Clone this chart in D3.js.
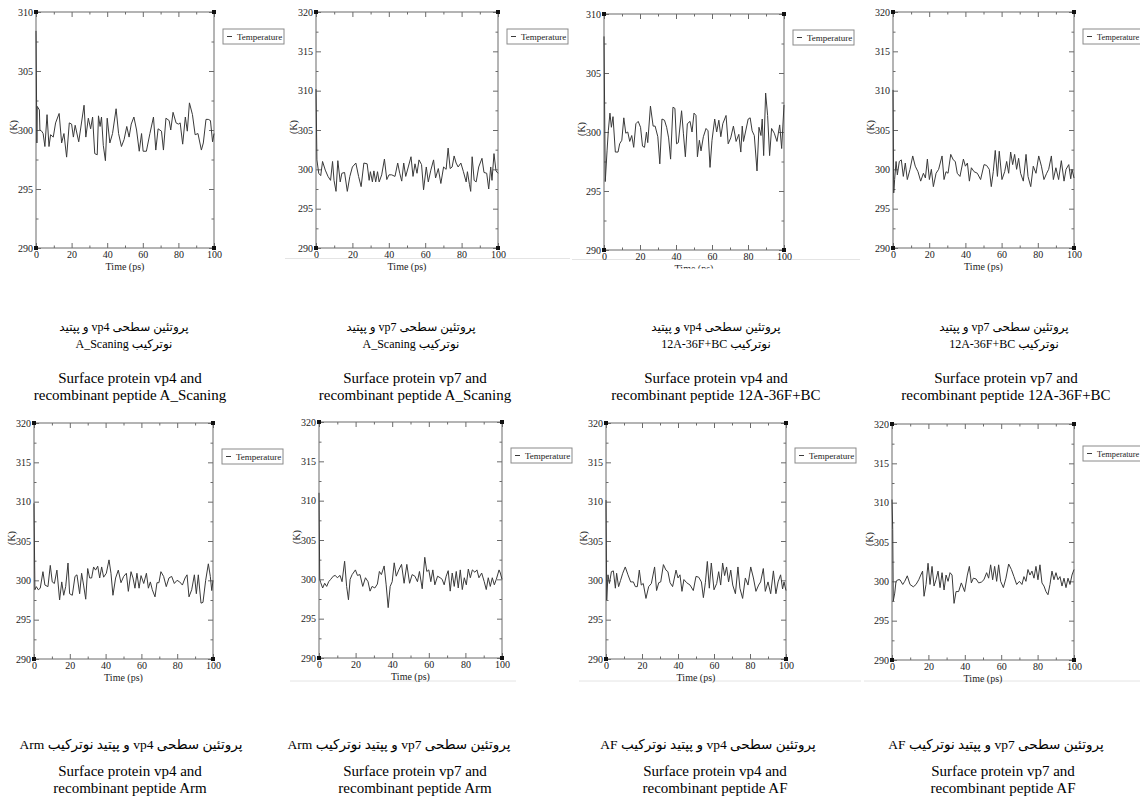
<!DOCTYPE html>
<html><head><meta charset="utf-8">
<script src="https://cdn.jsdelivr.net/npm/d3@7"></script>
<style>body{margin:0;background:#fff}svg{display:block}</style>
</head><body>
<svg id="c" width="1140" height="802"></svg>
<script>
// ---------- data ----------
const xTicks = [0, 20, 40, 60, 80, 100];
const xMinorTicks = [10, 30, 50, 70, 90];
const yTicksLow = [290, 295, 300, 305, 310];
const yTicksHigh = [290, 295, 300, 305, 310, 315, 320];
const legendLabel = "Temperature";
const xLabel = "Time (ps)";
const yLabel = "(K)";

// [time (ps), temperature (K)]
const vp4AScaning = [[0,308.4],[0.5,298.9],[0.7,302.0],[1.9,301.7],[2.2,300.0],[3.2,299.9],[4,299.7],[5,298.6],[6.2,301.3],[7.3,298.6],[8.2,299.6],[9.7,299.4],[11,300.6],[13,301.4],[14.4,298.9],[15.7,299.7],[17.2,297.7],[18.7,300.6],[20,300.5],[21,299.4],[22,300.4],[24,299.0],[27,302.1],[28,299.4],[29.4,301.0],[30.7,300.1],[31.8,301.1],[33,298.0],[34.4,297.9],[35.1,301.2],[36,300.3],[36.8,301.1],[37.8,298.7],[39,297.4],[40,301.0],[41.5,298.9],[43,299.7],[45,301.8],[46.4,299.7],[48,298.6],[49.5,299.2],[51,300.3],[52.3,299.4],[53.5,300.5],[55,301.1],[56.5,300.0],[58,298.2],[59.3,299.7],[60.2,298.2],[62,298.2],[64,299.7],[66,301.1],[67.3,298.3],[68.6,300.1],[70.5,299.9],[71.6,298.3],[73,301.0],[74.8,300.8],[75.7,300.0],[77,301.5],[78.7,300.6],[80,300.5],[81,300.6],[82.4,298.8],[83.9,301.1],[85,299.9],[86.2,302.3],[87.9,301.3],[89.4,299.6],[91,299.7],[92.9,298.3],[94,298.9],[95.5,300.9],[96.8,300.9],[98,300.8],[99.2,299.0],[100,299.7]];
const vp7AScaning = [[0,310.2],[0.5,301.2],[1.5,299.5],[2.6,299.2],[3.6,301.0],[5.1,299.9],[6.6,299.1],[8,298.6],[9.1,301.0],[9.9,298.6],[11,297.2],[12,301.1],[13.3,298.4],[14.2,299.5],[15.7,299.6],[17.2,297.2],[18.6,299.1],[20,300.3],[21.9,300.8],[23.4,299.1],[24.8,297.8],[26.3,300.8],[28.1,300.7],[29.2,298.6],[29.9,299.7],[31,298.4],[31.8,299.8],[32.8,298.4],[33.8,299.7],[34.7,298.4],[36.1,299.3],[37.6,301.3],[38.9,298.7],[40.1,299.3],[41.6,299.3],[43.4,299.1],[44.9,300.8],[46,299.5],[47.1,298.5],[48.2,300.8],[49.3,299.1],[50.7,300.3],[52.2,301.6],[53.3,299.1],[54.4,300.7],[55.5,299.5],[56.6,301.2],[58,300.6],[59.1,297.4],[60.6,300.3],[61.7,298.4],[63.1,299.9],[64.6,301.2],[65.7,298.9],[67.2,300.1],[68.6,298.2],[70.1,300.3],[71.5,300.0],[72.6,302.7],[73.7,300.1],[74.8,300.3],[75.9,301.7],[77,300.8],[78.1,300.3],[79.6,300.8],[81,299.7],[82.5,298.4],[83.2,299.7],[84.3,298.1],[85,297.2],[85.8,301.6],[86.9,298.6],[88,298.4],[89.4,300.3],[91.2,301.4],[92.3,299.6],[93.8,299.5],[94.9,297.5],[96,300.3],[96.7,298.6],[97.8,302.0],[98.9,299.8],[100,299.5]];
const vp4BC = [[0,308.1],[0.7,295.8],[1.7,298.4],[2.4,300.1],[3.3,301.6],[4.1,300.4],[5,301.3],[6.3,298.3],[7.8,298.3],[8.7,299.0],[9.9,299.3],[11,301.2],[12.1,299.9],[13.2,300.0],[14.3,299.2],[15.4,299.7],[16.5,298.7],[17.7,300.7],[19,300.9],[20.3,300.4],[21.4,298.8],[22.5,298.7],[23.6,300.0],[24.3,299.1],[25.8,302.2],[27.3,300.5],[28.4,300.5],[29.9,299.6],[31,297.3],[32.2,301.1],[33.6,301.0],[34.8,300.4],[35.9,299.5],[37,297.7],[38.3,302.1],[39.4,302.0],[40.3,299.0],[41.3,299.1],[43.1,301.8],[44.1,299.9],[45.2,297.9],[46.3,300.7],[47.8,300.9],[48.9,300.0],[50,301.6],[51.1,301.4],[51.9,297.9],[53,299.3],[53.9,298.4],[55.2,299.6],[56.7,300.3],[57.8,300.1],[58.9,297.0],[60,299.3],[61.5,301.1],[62.6,300.0],[63.8,301.0],[64.9,299.6],[66,300.7],[67.8,301.4],[69,299.0],[70.4,299.5],[71.9,300.5],[73.4,299.2],[74.9,299.8],[76,298.3],[76.8,300.5],[77.5,299.2],[78.6,300.0],[80.1,301.1],[81.2,301.2],[82.3,300.1],[83.5,299.7],[85,296.7],[86.1,300.4],[87.2,299.7],[87.9,301.1],[88.7,298.0],[89.8,303.3],[90.9,301.4],[92,298.0],[93.1,300.3],[94.6,299.9],[96.1,299.2],[97.6,300.6],[98.7,298.6],[100,302.3]];
const vp7BC = [[0,310.1],[0.4,297.0],[0.9,298.7],[1.7,301.0],[2.4,299.3],[3.5,301.0],[4.6,301.2],[5.7,299.1],[6.8,300.8],[7.9,298.7],[9.4,300.0],[10.9,301.7],[12.3,300.4],[13.8,299.7],[15.3,298.5],[16.8,299.5],[17.9,298.9],[19,301.3],[20.1,298.7],[21.2,300.0],[22.3,297.8],[23.8,299.5],[25.2,300.0],[27.1,301.7],[28.2,298.7],[29.3,299.7],[30.4,299.5],[31.9,301.9],[33.3,301.2],[34.4,301.0],[35.5,299.5],[37,299.1],[38.9,301.3],[40,300.4],[41.1,300.8],[42.2,298.5],[43.3,300.2],[44.8,299.7],[46.6,299.5],[48.4,298.7],[50.3,300.6],[51.7,300.5],[53.2,300.0],[54.3,297.8],[55.4,299.7],[56.5,302.4],[57.7,299.1],[58.7,302.3],[60.2,298.7],[61.7,299.7],[62.8,301.0],[63.9,299.5],[65,302.2],[66.1,300.6],[67.2,301.9],[68.3,300.0],[69.4,301.4],[70.5,299.5],[72,298.5],[73.5,301.9],[74.6,299.1],[76.1,297.8],[77.5,300.4],[79,299.5],[80.5,301.7],[82,300.4],[83.4,298.7],[84.9,299.5],[86,300.0],[87.5,301.7],[88.6,298.7],[90,300.2],[91.5,298.7],[93,301.1],[94.5,298.5],[95.6,300.0],[97.1,300.6],[98.2,298.8],[98.9,300.0],[100,298.9]];
const vp4Arm = [[0,309.8],[0.5,298.8],[1.3,299.2],[2.4,298.8],[3.5,299.0],[5,301.1],[6.1,299.4],[7.8,299.2],[9.1,301.9],[10.2,299.8],[11.4,299.6],[12.8,301.3],[14.3,297.5],[15.5,299.8],[16.6,298.1],[17.7,299.2],[19,302.2],[19.9,298.3],[21.4,298.1],[22.9,300.5],[24,300.7],[25.5,298.3],[26.6,300.9],[27.7,299.4],[28.9,297.6],[30,301.5],[31.1,300.3],[32.2,300.3],[33.3,301.7],[34.4,301.3],[35.6,301.8],[36.7,300.3],[37.8,301.7],[38.9,300.4],[40.4,300.9],[41.9,302.6],[43,300.9],[44.1,298.1],[45.6,300.3],[47.1,301.3],[48.6,299.7],[50.1,300.5],[51.6,300.9],[52.7,298.6],[54.2,301.1],[55.3,300.3],[56.4,299.0],[57.5,300.9],[58.7,299.0],[59.8,300.6],[61.3,299.6],[62.8,300.9],[63.9,299.0],[65,299.8],[66.1,298.8],[67.6,297.9],[68.7,299.7],[69.8,299.7],[70.9,301.1],[72.4,300.5],[73.9,299.2],[75.4,300.3],[76.9,300.5],[78.4,299.6],[79.9,300.0],[81.4,299.8],[82.9,299.4],[84.4,300.3],[85.5,300.7],[86.6,297.9],[88.1,298.8],[89.6,300.7],[90.7,298.3],[91.8,300.7],[93.3,297.1],[94.4,297.2],[95.9,300.0],[97.4,302.1],[98.5,300.5],[99.3,298.7],[100,300.0]];
const vp7Arm = [[0,311.0],[0.4,300.0],[0.9,299.6],[2,298.9],[3.1,299.5],[4.2,299.1],[5.3,299.7],[6.4,300.0],[7.8,300.4],[8.9,300.5],[10,300.2],[11.5,300.5],[12.6,299.7],[14,302.3],[15.1,299.1],[16.1,297.4],[17,300.0],[18.1,300.6],[19.9,301.2],[21,300.5],[22.4,300.6],[23.9,299.1],[25.4,300.2],[26.8,299.7],[27.9,298.5],[29,299.1],[30.5,298.9],[31.9,299.4],[33,301.0],[34.1,300.6],[35.6,301.7],[36.7,299.3],[37.8,296.4],[38.9,299.1],[40,299.7],[41.1,302.1],[42.2,300.4],[43.6,301.2],[45.1,301.9],[46.5,299.5],[48,301.9],[49.5,299.5],[50.9,300.6],[52.4,300.4],[53.8,299.7],[54.9,301.0],[56.4,298.8],[57.8,302.8],[58.9,301.0],[60,301.2],[61.1,299.7],[62.2,301.2],[63.3,299.3],[64.8,300.4],[66.2,300.2],[67.3,300.0],[68.4,299.3],[69.5,300.4],[70.6,301.1],[71.7,298.5],[72.8,300.8],[73.9,299.1],[75,301.0],[76.1,298.9],[77.2,301.2],[78.3,298.7],[79.4,300.2],[80.5,299.3],[81.6,301.3],[82.7,300.2],[83.8,301.2],[85.2,300.9],[86.3,301.2],[87.4,300.2],[88.9,300.8],[90.3,299.7],[91.4,298.7],[92.5,300.2],[93.6,299.1],[94.7,300.2],[95.8,299.3],[96.9,300.0],[98.4,301.2],[99.1,300.8],[100,300.0]];
const vp4AF = [[0,310.2],[0.4,297.5],[1.1,300.7],[1.9,299.6],[3,301.1],[4.1,301.2],[5.2,299.0],[5.9,300.9],[7,299.2],[8.1,300.0],[9.3,300.9],[10.7,301.7],[12.2,300.7],[13.7,299.8],[15.2,299.8],[16.3,299.2],[17.4,299.2],[18.5,301.3],[19.6,299.4],[20.7,299.6],[22.2,297.7],[23.7,299.2],[25.2,299.6],[27,301.7],[28.1,298.7],[29.3,299.7],[30.4,299.8],[31.9,302.0],[33.3,301.3],[34.4,301.1],[35.6,299.7],[37,299.2],[38.9,301.3],[40,300.3],[41.1,300.7],[42.2,298.6],[43.3,300.1],[44.8,299.7],[46.7,299.4],[48.5,298.7],[50,300.5],[51.5,300.4],[53,299.8],[54.1,297.8],[55.2,299.7],[56.3,302.4],[57.4,299.0],[58.5,302.2],[60,298.8],[61.5,299.6],[62.6,301.1],[63.7,299.4],[64.8,302.2],[65.9,300.6],[67,301.7],[68.1,299.8],[69.3,301.3],[70.4,299.4],[71.9,298.3],[73.3,301.7],[74.4,299.0],[75.9,297.7],[77.4,300.3],[78.9,299.4],[80.4,301.7],[81.9,300.3],[83.3,298.6],[84.8,299.4],[85.9,299.8],[87.4,301.5],[88.5,298.6],[90,299.8],[91.5,298.3],[93,301.2],[94.4,298.3],[95.6,299.8],[97,300.7],[98.1,298.9],[98.9,299.8],[100,298.7]];
const vp7AF = [[0,310.4],[0.4,306.6],[0.7,297.5],[1.5,298.5],[2.2,300.0],[3.3,300.2],[4.4,300.2],[5.9,299.6],[7,300.0],[8.4,300.7],[9.9,299.6],[11.7,299.3],[13.2,299.6],[14.7,300.2],[15.8,300.8],[16.8,301.3],[17.6,298.1],[18.7,299.6],[19.8,302.3],[20.9,299.6],[22,301.9],[23.1,299.4],[24.2,300.2],[25.3,301.3],[26.4,299.2],[27.5,301.1],[28.6,298.9],[29.7,300.8],[30.8,300.0],[31.9,301.1],[33,300.8],[34.1,297.2],[35.2,298.7],[36.6,298.7],[38.1,299.8],[39.9,298.7],[41.4,300.8],[42.5,301.9],[43.6,299.8],[44.7,300.4],[46.2,300.3],[47.6,299.8],[49.1,299.9],[50.5,300.2],[52,301.1],[53.1,300.4],[54.2,302.1],[55.3,300.2],[56.4,301.9],[57.5,300.0],[58.6,302.1],[59.7,300.0],[61.2,299.2],[62.6,300.4],[64.1,302.2],[65.6,301.5],[67,300.6],[68.5,299.6],[70,300.0],[71.4,299.6],[72.5,300.6],[73.6,300.0],[74.7,301.5],[75.8,300.8],[76.9,301.3],[78,300.4],[79.1,301.9],[80.2,300.2],[81.3,302.1],[82.4,299.8],[83.5,299.4],[84.6,298.7],[85.7,298.3],[86.8,299.6],[87.9,301.3],[89,300.2],[90.1,301.1],[91.2,300.2],[92.3,300.6],[93.4,299.4],[94.5,300.4],[95.6,299.2],[96.7,300.4],[97.8,299.6],[98.9,300.8],[100,301.5]];

const faCaptions = [
  ["پروتئین سطحی vp4 و پپتید", "نوترکیب A_Scaning"],
  ["پروتئین سطحی vp7 و پپتید", "نوترکیب A_Scaning"],
  ["پروتئین سطحی vp4 و پپتید", "نوترکیب 12A-36F+BC"],
  ["پروتئین سطحی vp7 و پپتید", "نوترکیب 12A-36F+BC"],
  ["پروتئین سطحی vp4 و پپتید نوترکیب Arm"],
  ["پروتئین سطحی vp7 و پپتید نوترکیب Arm"],
  ["پروتئین سطحی vp4 و پپتید نوترکیب AF"],
  ["پروتئین سطحی vp7 و پپتید نوترکیب AF"]
];
const enCaptions = [
  ["Surface protein vp4 and", "recombinant peptide A_Scaning"],
  ["Surface protein vp7 and", "recombinant peptide A_Scaning"],
  ["Surface protein vp4 and", "recombinant peptide 12A-36F+BC"],
  ["Surface protein vp7 and", "recombinant peptide 12A-36F+BC"],
  ["Surface protein vp4 and", "recombinant peptide Arm"],
  ["Surface protein vp7 and", "recombinant peptide Arm"],
  ["Surface protein vp4 and", "recombinant peptide AF"],
  ["Surface protein vp7 and", "recombinant peptide AF"]
];
const seriesList = [vp4AScaning, vp7AScaning, vp4BC, vp7BC, vp4Arm, vp7Arm, vp4AF, vp7AF];
const yTickSets = [yTicksLow, yTicksHigh, yTicksLow, yTicksHigh, yTicksHigh, yTicksHigh, yTicksHigh, yTicksHigh];

// ---------- layout ----------
const layout = [
  {l:36,  r:214,  t:12,  b:248, leg:17, legFs:9,   faX:124,  faY:[331,348], faFs:12,   enX:130,  enY:[383,400]},
  {l:316, r:498,  t:12,  b:248, leg:17, legFs:9,   faX:411,  faY:[331,348], faFs:12,   enX:415,  enY:[383,400]},
  {l:604, r:784,  t:14,  b:250, leg:16, legFs:9,   faX:716,  faY:[331,348], faFs:12,   enX:716,  enY:[383,400]},
  {l:893, r:1074, t:12,  b:248, leg:17, legFs:8.4, faX:1004, faY:[331,348], faFs:12,   enX:1006, enY:[383,400]},
  {l:34,  r:213,  t:423, b:659, leg:26, legFs:9,   faX:131,  faY:[749],     faFs:13.5, enX:130,  enY:[776,793]},
  {l:319, r:502,  t:422, b:658, leg:26, legFs:9,   faX:399,  faY:[749],     faFs:13.5, enX:415,  enY:[776,793]},
  {l:606, r:786,  t:423, b:659, leg:25, legFs:9,   faX:708,  faY:[749],     faFs:13.5, enX:715,  enY:[776,793]},
  {l:892, r:1074, t:424, b:660, leg:22, legFs:8.4, faX:996,  faY:[749],     faFs:13.5, enX:1003, enY:[776,793]}
];

const svg = d3.select("#c");
svg.append("rect").attr("width",1140).attr("height",802).attr("fill","#fff");

// faint scan borders of the pasted images
const borders = [[285,570,258.5],[572,860,259.5],[290,516,681],[579,861,681],[864,1140,681]];
svg.selectAll("line.border").data(borders).enter().append("line")
  .attr("x1",d=>d[0]).attr("x2",d=>d[1]).attr("y1",d=>d[2]).attr("y2",d=>d[2])
  .attr("stroke","#e4e4e4").attr("stroke-width",1);

const FRAME = "#6a6a6a";
const serif = "'Liberation Serif','Times New Roman',serif";

layout.forEach((p, i) => {
  const yt = yTickSets[i];
  const x = d3.scaleLinear().domain([0,100]).range([p.l, p.r]);
  const y = d3.scaleLinear().domain([yt[0], yt[yt.length-1]]).range([p.b, p.t]);
  const yMinor = d3.range(yt[0] + 2.5, yt[yt.length-1], 5);
  const g = svg.append("g");

  function axis(gen, tr, vals, size, labels) {
    const a = gen.tickValues(vals).tickSize(size).tickPadding(3);
    if (!labels) a.tickFormat("");
    const ax = g.append("g").attr("transform", tr).call(a);
    ax.select(".domain").remove();
    ax.selectAll("line").attr("stroke", FRAME);
    ax.selectAll("text").attr("font-family", serif).attr("font-size", 10).attr("fill", "#222");
    return ax;
  }
  // major + minor ticks on all four sides, pointing inward
  axis(d3.axisBottom(x), `translate(0,${p.b})`, xTicks, -5, true);
  axis(d3.axisBottom(x), `translate(0,${p.b})`, xMinorTicks, -2.5, false);
  axis(d3.axisTop(x), `translate(0,${p.t})`, xTicks, -5, false);
  axis(d3.axisTop(x), `translate(0,${p.t})`, xMinorTicks, -2.5, false);
  axis(d3.axisLeft(y), `translate(${p.l},0)`, yt, -5, true);
  axis(d3.axisLeft(y), `translate(${p.l},0)`, yMinor, -2.5, false);
  axis(d3.axisRight(y), `translate(${p.r},0)`, yt, -5, false);
  axis(d3.axisRight(y), `translate(${p.r},0)`, yMinor, -2.5, false);

  g.append("rect").attr("x", p.l).attr("y", p.t).attr("width", p.r - p.l).attr("height", p.b - p.t)
    .attr("fill", "none").attr("stroke", FRAME).attr("stroke-width", 1);

  // data line
  const line = d3.line().x(d => x(d[0])).y(d => y(d[1]));
  g.append("path").datum(seriesList[i]).attr("d", line)
    .attr("fill", "none").attr("stroke", "#3a3a3a").attr("stroke-width", 1).attr("stroke-linejoin", "round");

  // corner squares
  const corners = [[0, yt[0]], [100, yt[0]], [0, yt[yt.length-1]], [100, yt[yt.length-1]]];
  g.selectAll("rect.corner").data(corners).enter().append("rect")
    .attr("x", d => x(d[0]) - 2).attr("y", d => y(d[1]) - 2).attr("width", 4).attr("height", 4).attr("fill", "#111");

  // axis labels
  g.append("text").attr("x", (p.l + p.r) / 2).attr("y", p.b + 21.5).attr("text-anchor", "middle")
    .attr("font-family", serif).attr("font-size", 10).attr("fill", "#222").text(xLabel);
  const ymid = (p.t + p.b) / 2 - 3;
  g.append("text").attr("transform", `translate(${p.l - 19},${ymid}) rotate(-90)`).attr("text-anchor", "middle")
    .attr("font-family", serif).attr("font-size", 10).attr("fill", "#222").text(yLabel);

  // legend
  const lx = p.r + 9, ly = p.t + p.leg;
  g.append("rect").attr("x", lx).attr("y", ly).attr("width", 61).attr("height", 15)
    .attr("fill", "#fff").attr("stroke", "#8a8a8a").attr("stroke-width", 1);
  g.append("line").attr("x1", lx + 4).attr("x2", lx + 9).attr("y1", ly + 7.5).attr("y2", ly + 7.5)
    .attr("stroke", "#3a3a3a").attr("stroke-width", 1);
  g.append("text").attr("x", lx + 14).attr("y", ly + 10.5).attr("font-family", serif)
    .attr("font-size", p.legFs).attr("fill", "#222").text(legendLabel);

  // captions
  faCaptions[i].forEach((s, k) => {
    svg.append("text").attr("x", p.faX).attr("y", p.faY[k]).attr("text-anchor", "middle")
      .attr("direction", "rtl").attr("unicode-bidi", "embed")
      .attr("font-family", "'Liberation Serif','DejaVu Sans',serif").attr("font-size", p.faFs)
      .attr("fill", "#000").text(s);
  });
  enCaptions[i].forEach((s, k) => {
    svg.append("text").attr("x", p.enX).attr("y", p.enY[k]).attr("text-anchor", "middle")
      .attr("font-family", serif).attr("font-size", 15).attr("fill", "#000").text(s);
  });
});

// the third panel's x title is cut off by its image border
svg.append("rect").attr("x", 572).attr("y", 268.5).attr("width", 288).attr("height", 8).attr("fill", "#fff");
</script>
</body></html>
